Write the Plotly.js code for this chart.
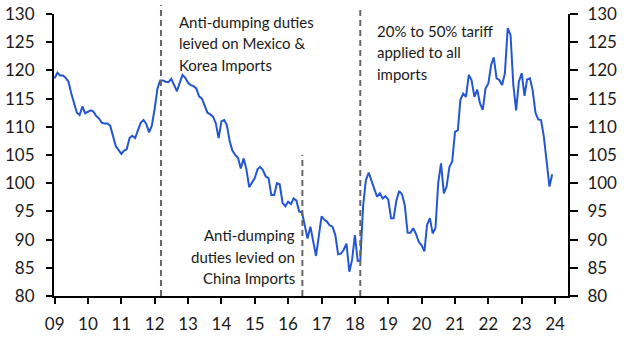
<!DOCTYPE html>
<html>
<head>
<meta charset="utf-8">
<script src="https://cdn.plot.ly/plotly-3.0.1.min.js"></script>
<style>html,body{margin:0;padding:0;background:#fff;}#chart{width:629px;height:355px;}</style>
</head>
<body>
<div id="chart"></div>
<script>
// Monthly index values, Jan..Dec of each year
const y2009 = [118.6,119.6,119.1,119.1,118.7,118.0,116.0,114.0,112.5,112.1,113.6,112.4];
const y2010 = [112.6,112.9,112.7,111.9,111.5,110.7,110.6,110.6,110.2,108.6,106.6,105.9];
const y2011 = [105.2,105.8,106.0,108.0,108.4,108.0,109.5,110.7,111.2,110.5,109.0,110.2];
const y2012 = [113.2,116.8,118.2,118.2,118.0,117.9,118.5,117.3,116.3,117.8,119.2,118.7];
const y2013 = [117.8,117.4,117.2,116.8,115.4,115.0,113.6,112.5,112.2,111.8,110.6,108.0];
const y2014 = [111.0,111.2,110.3,107.5,105.8,105.0,104.5,102.6,104.4,102.5,99.3,100.0];
const y2015 = [100.9,102.5,102.9,102.3,101.2,100.9,97.9,97.9,100.0,99.8,96.5,95.9];
const y2016 = [96.7,96.3,97.3,96.9,95.0,94.8,92.6,90.2,92.3,89.8,87.1,90.5];
const y2017 = [94.1,93.5,93.2,92.5,92.3,90.8,87.4,87.5,88.2,89.3,84.3,86.4];
const y2018 = [90.8,86.2,86.3,96.0,100.5,101.9,100.3,99.0,97.6,98.2,97.3,97.7];
const y2019 = [97.1,93.8,93.8,97.0,98.6,98.0,96.1,91.2,91.2,92.0,91.0,89.6];
const y2020 = [89.0,87.9,92.6,93.8,91.1,92.0,100.0,103.5,98.2,99.4,102.9,103.8];
const y2021 = [109.1,109.4,114.8,115.9,115.3,119.2,118.3,115.3,116.6,114.2,113.0,116.8];
const y2022 = [117.7,121.0,122.3,118.6,118.3,117.4,119.5,127.5,126.3,117.5,112.9,118.0];
const y2023 = [119.5,115.5,118.4,118.6,116.5,112.5,111.3,111.2,108.2,104.1,99.4,101.6];

const years = [2009,2010,2011,2012,2013,2014,2015,2016,2017,2018,2019,2020,2021,2022,2023];
const seriesByYear = [y2009,y2010,y2011,y2012,y2013,y2014,y2015,y2016,y2017,y2018,y2019,y2020,y2021,y2022,y2023];

const tickYears = [2009,2010,2011,2012,2013,2014,2015,2016,2017,2018,2019,2020,2021,2022,2023,2024];
const tickLabels = ['09','10','11','12','13','14','15','16','17','18','19','20','21','22','23','24'];

const eventDates = ['2012-03-10','2016-06-05','2018-03-01'];

const xs = [], ys = [];
years.forEach((yr, i) => {
  seriesByYear[i].forEach((v, m) => {
    xs.push(yr + '-' + String(m + 1).padStart(2, '0') + '-01');
    ys.push(v);
  });
});

const FONT = 'Lato, "Open Sans", sans-serif';
const TXT = '#1a1a1a';

const traces = [
  {x: xs, y: ys, type: 'scatter', mode: 'lines', line: {color: '#2456d3', width: 2}, hoverinfo: 'skip'},
  {x: xs, y: ys, type: 'scatter', mode: 'lines', yaxis: 'y2', line: {color: 'rgba(0,0,0,0)', width: 0}, hoverinfo: 'skip'}
];

function ann(text, x, y, xanchor) {
  return {text: text, xref: 'paper', yref: 'paper', x: x, y: y, xanchor: xanchor, yanchor: 'middle',
          align: xanchor, showarrow: false, font: {family: FONT, size: 15, color: TXT}};
}

const annotations = [
  ann('Anti-dumping duties', 0.2393, 0.9716, 'left'),
  ann('leived on Mexico &amp;', 0.2393, 0.8954, 'left'),
  ann('Korea Imports', 0.2393, 0.8191, 'left'),
  ann('20% to 50% tariff', 0.6245, 0.9408, 'left'),
  ann('applied to all', 0.6245, 0.8641, 'left'),
  ann('imports', 0.6245, 0.7872, 'left'),
  ann('Anti-dumping', 0.4728, 0.2163, 'right'),
  ann('duties levied on', 0.4728, 0.1394, 'right'),
  ann('China Imports', 0.4728, 0.0626, 'right')
];

const tops = [1.032, 0.5, 1.014];
const shapes = eventDates.map((d, i) => ({
  type: 'line', xref: 'x', yref: 'paper', x0: d, x1: d, y0: 0, y1: tops[i],
  line: {color: '#666666', width: 2, dash: '6px,4px'}
}));

const yax = {
  range: [80, 130], dtick: 5, tick0: 80, ticks: 'outside', ticklen: 6, tickwidth: 2, tickcolor: '#000',
  showline: true, linewidth: 2, linecolor: '#000', showgrid: false, zeroline: false,
  tickfont: {family: FONT, size: 17, color: TXT}, fixedrange: true
};

const layout = {
  width: 629, height: 355,
  margin: {l: 54, r: 61, t: 14, b: 59},
  paper_bgcolor: '#fff', plot_bgcolor: '#fff',
  showlegend: false,
  xaxis: {
    type: 'date', range: ['2008-12-25', '2024-05-22'],
    tickvals: tickYears.map(y => y + '-01-01'), ticktext: tickLabels,
    ticks: 'outside', ticklen: 6, tickwidth: 2, tickcolor: '#000',
    showline: true, linewidth: 2, linecolor: '#000', showgrid: false, zeroline: false,
    tickfont: {family: FONT, size: 17, color: TXT}, ticklabelstandoff: 6
  },
  yaxis: Object.assign({}, yax, {side: 'left', ticklabelstandoff: 8}),
  yaxis2: Object.assign({}, yax, {side: 'right', overlaying: 'y', ticklen: 8, ticklabelstandoff: 6}),
  annotations: annotations,
  shapes: shapes
};

Plotly.newPlot('chart', traces, layout, {staticPlot: true, displayModeBar: false});
</script>
</body>
</html>
